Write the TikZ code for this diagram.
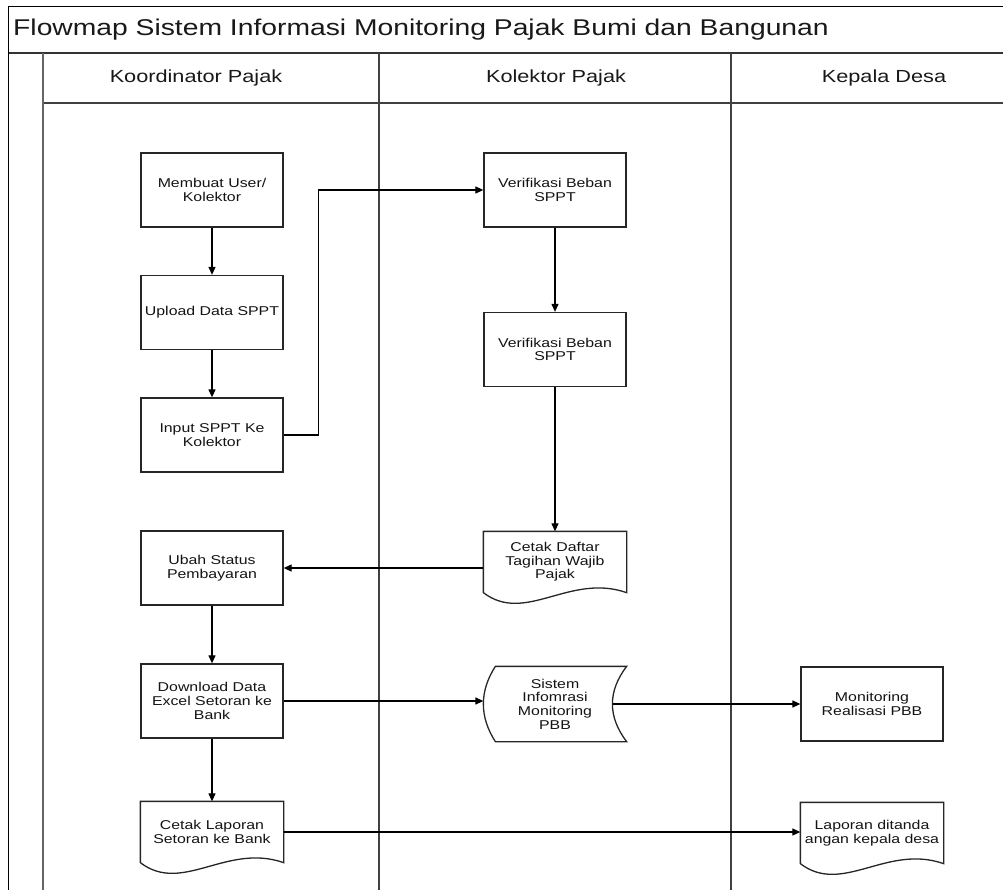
\documentclass[tikz,border=0pt]{standalone}
\usepackage{fontspec}
\setmainfont{Liberation Sans}[FakeStretch=1.24]
\usetikzlibrary{arrows.meta,calc}
\newcommand\mydocshape[1]{\draw[line width=1.3pt,black!85] (#1.south west) -- (#1.north west) -- (#1.north east) -- (#1.south east) .. controls ($(#1.south east)+(-57,-20)$) and ($(#1.south west)+(42,32)$) .. (#1.south west) -- cycle;}
\newcommand\mysdshape[1]{\draw[line width=1.3pt,black!85] ($(#1.north west)+(12,0)$) -- (#1.north east) .. controls ($(#1.north east)+(-19,25)$) and ($(#1.south east)+(-19,-25)$) .. (#1.south east) -- ($(#1.south west)+(12,0)$) .. controls ($(#1.south west)+(-4,-25)$) and ($(#1.north west)+(-4,25)$) .. ($(#1.north west)+(12,0)$) -- cycle;}
\begin{document}
\begin{tikzpicture}[x=1pt,y=-1pt,
  box/.style={draw=black!85,line width=1.3pt,minimum width=142pt,minimum height=74pt,inner sep=0pt,align=center,font=\fontsize{12.8}{13.6}\selectfont,text=black!92},
  docbox/.style={box,draw=none,minimum height=60pt},
  sdbox/.style={box,draw=none},
  arr/.style={line width=1.2pt,black,-{Triangle[length=8pt,width=7pt]}},
  lane/.style={line width=2pt,draw=black!75},
  hdr/.style={font=\fontsize{17.5}{19}\selectfont,text=black!90,inner sep=0pt}]
\useasboundingbox (0,0) rectangle (1003,890);
\fill[white] (0,0) rectangle (1003,890);
% pool frame
\draw[line width=1.6pt] (1003,6.5) -- (8.5,6.5) -- (8.5,890);
\draw[line width=1.5pt,black!80] (8.5,53) -- (1003,53);
\draw[line width=1.3pt,black!75] (43,103) -- (1003,103);
\draw[lane,black!60] (43,53) -- (43,890);
\draw[lane] (379,53) -- (379,890);
\draw[lane] (731,53) -- (731,890);
% titles
\node[anchor=west,inner sep=0pt,font=\fontsize{22.8}{25}\selectfont,text=black!90] (title) at (13,30) {Flowmap Sistem Informasi Monitoring Pajak Bumi dan Bangunan};
\node[hdr] (h1) at (196,78) {Koordinator Pajak};
\node[hdr] (h2) at (556,78) {Kolektor Pajak};
\node[hdr] (h3) at (884,78) {Kepala Desa};
% nodes
\node[box] (mem) at (212,190) {Membuat User/\\Kolektor};
\node[box] (upl) at (212,312.5) {Upload Data SPPT};
\node[box] (inp) at (212,435) {Input SPPT Ke\\Kolektor};
\node[box] (ver1) at (555,190) {Verifikasi Beban\\SPPT};
\node[box] (ver2) at (555,349.5) {Verifikasi Beban\\SPPT};
\node[docbox] (cdt) at (555,562) {Cetak Daftar\\Tagihan Wajib\\Pajak};
\mydocshape{cdt}
\node[box] (ubah) at (212,568) {Ubah Status\\Pembayaran};
\node[box] (dl) at (212,701) {Download Data\\Excel Setoran ke\\Bank};
\node[sdbox] (sis) at (555,704) {Sistem\\Infomrasi\\Monitoring\\PBB};
\mysdshape{sis}
\node[box] (mon) at (872,704) {Monitoring\\Realisasi PBB};
\node[docbox] (clp) at (212,832) {Cetak Laporan\\Setoran ke Bank};
\mydocshape{clp}
\node[docbox] (lap) at (872,833) {Laporan ditanda\\angan kepala desa};
\mydocshape{lap}
% connectors
\draw[arr] (mem) -- (upl);
\draw[arr] (upl) -- (inp);
\draw[arr] (inp.east) -- ++(35,0) |- (ver1.west);
\draw[arr] (ver1) -- (ver2);
\draw[arr] (ver2) -- (cdt);
\draw[arr] (cdt.west |- ubah.east) -- (ubah.east);
\draw[arr] (ubah) -- (dl);
\draw[arr] (dl.east) -- (dl.east -| sis.west);
\draw[arr] ([xshift=-14pt]sis.east) -- (mon.west);
\draw[arr] (dl) -- (clp);
\draw[arr] (clp.east) -- (clp.east -| lap.west);
\end{tikzpicture}
\end{document}
